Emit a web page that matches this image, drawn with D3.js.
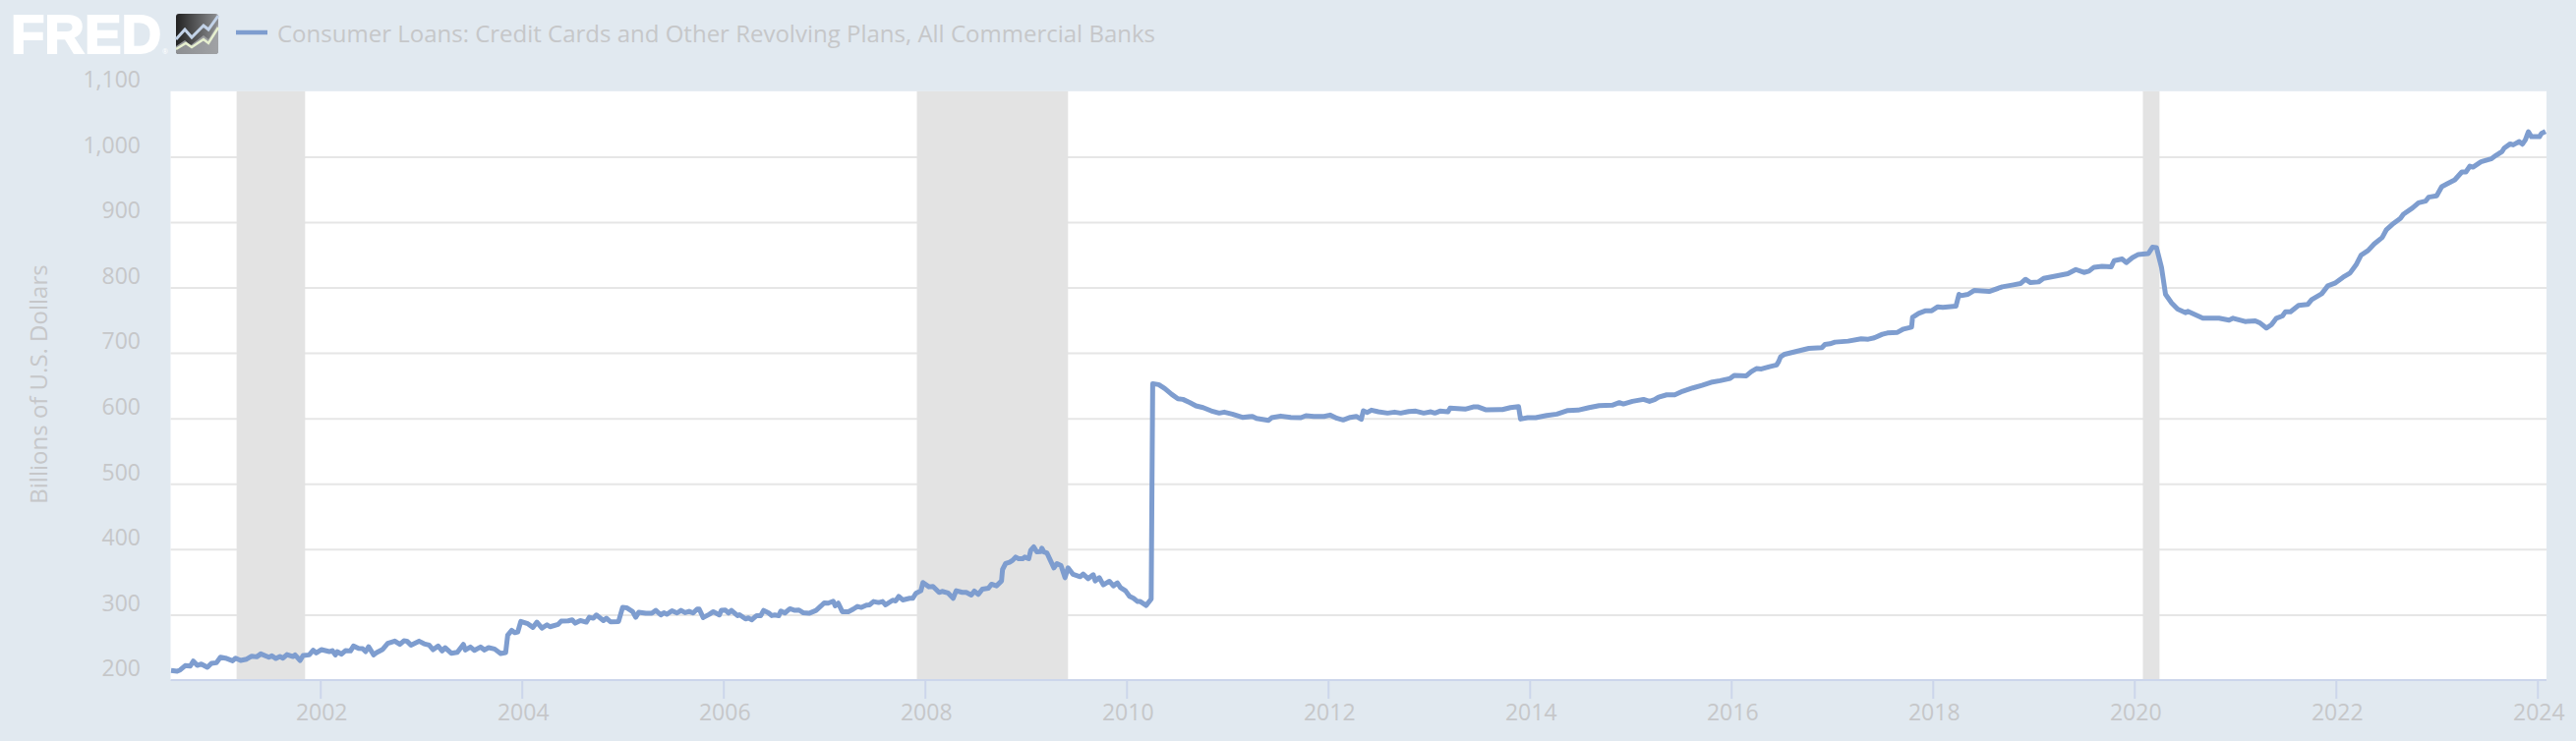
<!DOCTYPE html>
<html><head><meta charset="utf-8">
<script src="https://cdn.jsdelivr.net/npm/d3@7"></script>
<style>html,body{margin:0;padding:0;background:#e1e9f0;overflow:hidden}svg{display:block}text{font-family:"Open Sans",sans-serif}</style>
</head><body><svg id="c" width="2620" height="754"></svg>
<script>
const seriesName = "Consumer Loans: Credit Cards and Other Revolving Plans, All Commercial Banks";
const yAxisTitle = "Billions of U.S. Dollars";
const yTicks = [200,300,400,500,600,700,800,900,1000,1100];
const xTicks = [2002,2004,2006,2008,2010,2012,2014,2016,2018,2020,2022,2024];
const xDomain = [2000.515,2024.09];
const recessions = [[2001.17,2001.85],[2007.92,2009.42],[2020.085,2020.25]];
const years = [
2000.52,2000.58,2000.61,2000.66,2000.71,2000.74,2000.78,2000.82,2000.88,2000.92,2000.97,2001.01,2001.06,2001.13,2001.16,2001.21,2001.27,2001.32,2001.37,2001.41,2001.49,2001.52,2001.56,2001.60,2001.63,2001.67,2001.73,2001.75,2001.80,2001.83,2001.89,2001.93,2001.96,
2002.01,2002.09,2002.12,2002.15,2002.17,2002.21,2002.25,2002.30,2002.33,2002.38,2002.42,2002.45,2002.48,2002.53,2002.56,2002.62,2002.67,2002.74,2002.79,2002.83,2002.86,2002.90,2002.98,
2003.03,2003.08,2003.12,2003.17,2003.21,2003.24,2003.30,2003.36,2003.42,2003.44,2003.49,2003.53,2003.59,2003.63,2003.67,2003.73,2003.79,2003.84,2003.86,2003.90,2003.93,2003.96,2003.99,
2004.06,2004.11,2004.15,2004.20,2004.25,2004.28,2004.36,2004.39,2004.46,2004.50,2004.53,2004.58,2004.64,2004.67,2004.71,2004.74,2004.81,2004.84,2004.88,2004.96,
2005.00,2005.04,2005.10,2005.13,2005.16,2005.23,2005.29,2005.33,2005.38,2005.41,2005.44,2005.49,2005.54,2005.58,2005.62,2005.66,2005.70,2005.74,2005.76,2005.80,2005.86,2005.90,2005.96,2005.98,
2006.02,2006.05,2006.08,2006.14,2006.16,2006.22,2006.25,2006.28,2006.33,2006.37,2006.40,2006.45,2006.48,2006.51,2006.55,2006.57,2006.61,2006.66,2006.71,2006.75,2006.79,2006.85,2006.92,2006.97,
2007.00,2007.04,2007.09,2007.11,2007.14,2007.18,2007.24,2007.29,2007.33,2007.37,2007.42,2007.45,2007.49,2007.54,2007.58,2007.61,2007.68,2007.71,2007.74,2007.78,2007.85,2007.88,2007.91,2007.96,2007.98,
2008.04,2008.08,2008.14,2008.17,2008.23,2008.28,2008.31,2008.37,2008.41,2008.46,2008.49,2008.53,2008.57,2008.63,2008.66,2008.71,2008.76,2008.77,2008.80,2008.84,2008.87,2008.90,2008.93,2008.97,2008.99,
2009.03,2009.05,2009.08,2009.11,2009.15,2009.16,2009.18,2009.21,2009.24,2009.28,2009.31,2009.35,2009.39,2009.42,2009.47,2009.54,2009.57,2009.62,2009.67,2009.69,2009.73,2009.77,2009.83,2009.87,2009.91,2009.94,2009.99,
2010.03,2010.07,2010.11,2010.137,2010.196,2010.245,2010.26,2010.32,2010.38,2010.45,2010.51,2010.56,2010.63,2010.69,2010.76,2010.84,2010.92,2010.97,
2011.05,2011.15,2011.25,2011.29,2011.41,2011.44,2011.53,2011.63,2011.73,2011.78,2011.86,2011.96,
2012.02,2012.09,2012.15,2012.22,2012.28,2012.33,2012.35,2012.39,2012.43,2012.50,2012.59,2012.66,2012.72,2012.80,2012.87,2012.95,
2013.02,2013.06,2013.11,2013.19,2013.21,2013.36,2013.44,2013.49,2013.57,2013.73,2013.81,2013.89,2013.91,2013.98,
2014.06,2014.17,2014.27,2014.38,2014.48,2014.59,2014.69,2014.82,2014.89,2014.93,
2015.02,2015.13,2015.19,2015.24,2015.28,2015.36,2015.44,2015.52,2015.62,2015.71,2015.80,2015.89,2015.99,
2016.03,2016.15,2016.20,2016.25,2016.30,2016.38,2016.45,2016.47,2016.49,2016.53,2016.64,2016.77,2016.90,2016.93,2016.98,
2017.03,2017.16,2017.29,2017.36,2017.42,2017.50,2017.55,2017.65,2017.71,2017.79,2017.80,2017.86,2017.93,2017.99,
2018.05,2018.10,2018.23,2018.26,2018.28,2018.35,2018.41,2018.56,2018.69,2018.80,2018.87,2018.92,2018.97,
2019.05,2019.10,2019.19,2019.34,2019.42,2019.50,2019.55,2019.60,2019.68,2019.77,2019.80,2019.88,2019.92,2019.98,
2020.04,2020.14,2020.18,2020.22,2020.27,2020.31,2020.37,2020.43,2020.51,2020.53,2020.68,2020.84,2020.94,2020.98,
2021.10,2021.20,2021.25,2021.31,2021.36,2021.41,2021.47,2021.50,2021.55,2021.63,2021.72,2021.76,2021.86,2021.92,2021.99,
2022.07,2022.14,2022.20,2022.25,2022.32,2022.38,2022.46,2022.50,2022.56,2022.64,2022.67,2022.76,2022.82,2022.89,2022.92,
2023.00,2023.05,2023.10,2023.18,2023.25,2023.29,2023.33,2023.36,2023.44,2023.54,2023.59,2023.65,2023.67,2023.73,2023.76,2023.82,2023.85,2023.88,2023.91,2023.94,
2024.02,2024.04,2024.08];
const values = [
214.5,213.5,215.5,222,221.5,229,222.5,224.5,219.5,225.5,226.5,235,233.5,229.5,233.5,230,232,236.5,235.5,240,235,237,233,236,233.5,239,236,238.5,230,237.5,238.5,245.5,241.5,
246.5,243.5,245,238.5,243.5,239.5,245,244.5,252,248.5,248,243.5,251,238.5,242,247,256,259.5,254.5,260,259.5,253.5,259.5,
255.5,253.5,246.5,252,244.5,249.5,241,242.5,254.5,246,250.5,245.5,250.5,246,249.5,247.5,240.5,242,268.5,276,272.5,273.5,289.5,
286,280.5,288.5,279.5,284.5,281.5,285,290,290.5,292,287,291,288.5,296,294.5,299.5,291,294.5,289,289.5,
311,310.5,304.5,296,303.5,302,302,306.5,299.5,303,300.5,306,302.5,306.5,303,305,302.5,308.5,308.5,295.5,300.5,304.5,299.5,306.5,
307,302.5,306.5,298.5,300,293.5,295,292,298.5,298.5,306.5,302.5,298.5,299.5,298.5,305.5,302.5,309,306.5,307,303,302,306.5,313.5,
318,317.5,320.5,313.5,317.5,304.5,304.5,308.5,312.5,311,314.5,315,320,318.5,320,315,322,321,328,322.5,325,325,332.5,336.5,349,
342.5,343,334,335.5,333,325,336.5,334,334,330,336,331,339,340.5,346.5,344,351.5,369,378,380,383,388,385.5,385.5,388,
385.5,398.5,403.5,396,396.5,401.5,396,394.5,384.5,371.5,378,375,356.5,371.5,361.5,358,362,355,361,351.5,356.5,345.5,351,344,348.5,341.5,336.5,
328,325,320,320,314,324,653,651.5,645.5,636.5,630,629,624,619,616.5,611.5,608,609.5,
606.5,601.5,603,600,597,601,603.5,601.5,601,604,603,603,
605,600,597.5,601.5,603,598.5,611.5,609,612.5,610,608,609.5,608,610.5,611,608,
610,608,611,610,615.5,614,617.5,617.5,613,613.5,616.5,618,599,601,
601,604.5,606.5,612,612.5,616.5,619.5,620,624,622,
626,629,626,628.5,632.5,636,636,641.5,646.5,650.5,655,657.5,661,
665.5,665,671.5,676,675.5,679,681.5,686.5,694,698,702,707,708,713,714,
716.5,718,721.5,721,723,728.5,730.5,731.5,736.5,739.5,754.5,760.5,764.5,764.5,
770.5,769.5,771.5,789.5,787.5,789.5,795.5,794,801,804,806,812.5,807.5,
808.5,814,816.5,821,827.5,823,825,831,832.5,831.5,841,843.5,838,845.5,
850.5,852,861.5,861,830.5,789.5,776.5,767,761.5,763.5,753,753,750,753,
748,749,745.5,738,743,753,756.5,763,763,772.5,774,781.5,790.5,802.5,806.5,
815.5,822,834.5,849.5,856.5,866.5,876.5,888,896.5,905.5,912,921.5,929.5,932,938,
940,954,958,964.5,976.5,976.5,985.5,984,992,996.5,1002,1008,1013,1019.5,1018,1023,1019,1025.5,1038,1030.5,
1030.5,1035.5,1038.5];

const P = {l:173.5,r:2590,t:92.8,b:692};
const x = d3.scaleLinear().domain(xDomain).range([P.l,P.r]);
const y = d3.scaleLinear().domain([200,1100]).range([P.b,P.t]);
const TXT = "#c6c7c9";
const svg = d3.select("#c");
const defs = svg.append("defs");
const g = defs.append("linearGradient").attr("id","lg").attr("x1",0).attr("x2",1).attr("y1",0).attr("y2",0);
g.append("stop").attr("offset",0).attr("stop-color","#222");
g.append("stop").attr("offset",1).attr("stop-color","#8f9194");
const g2 = defs.append("linearGradient").attr("id","lg2").attr("x1",0).attr("x2",1).attr("y1",0).attr("y2",0);
g2.append("stop").attr("offset",0).attr("stop-color","#8d8f92");
g2.append("stop").attr("offset",1).attr("stop-color","#a0a2a5");

svg.append("rect").attr("width",2620).attr("height",754).attr("fill","#e1e9f0");
svg.append("rect").attr("x",P.l).attr("y",P.t).attr("width",P.r-P.l).attr("height",P.b-P.t).attr("fill","#fff");

// grid
svg.append("g").attr("transform",`translate(${P.l},0)`)
  .call(d3.axisLeft(y).tickValues(yTicks.slice(1,-1)).tickSize(-(P.r-P.l)).tickFormat(""))
  .call(s=>s.select(".domain").remove())
  .call(s=>s.selectAll("line").attr("stroke","#e6e6e6").attr("stroke-width",2));

// recessions
svg.append("g").selectAll("rect").data(recessions).join("rect")
  .attr("x",d=>x(d[0])).attr("width",d=>x(d[1])-x(d[0]))
  .attr("y",P.t).attr("height",P.b-P.t).attr("fill","#e3e3e3");

// y labels
svg.append("g").selectAll("text").data(yTicks).join("text")
  .attr("x",143).attr("y",d=>y(d)-3.7).attr("text-anchor","end")
  .attr("font-size",23).attr("fill",TXT).text(d=>d3.format(",")(d));

// x axis
const xa = svg.append("g").attr("transform",`translate(0,${P.b})`)
  .call(d3.axisBottom(x).tickValues(xTicks).tickSize(19).tickPadding(6).tickFormat(d3.format("d")));
xa.select(".domain").attr("stroke","#ccd6eb").attr("stroke-width",2).attr("d",`M${P.l},0H${P.r}`);
xa.selectAll("line").attr("stroke","#ccd6eb").attr("stroke-width",2);
xa.selectAll("text").attr("font-size",23).attr("fill",TXT).style("font-family",'"Open Sans",sans-serif').attr("dx",1);

// line
const line = d3.line().x(d=>x(d[0])).y(d=>y(d[1]));
svg.append("path").datum(d3.zip(years,values)).attr("d",line)
  .attr("fill","none").attr("stroke","#7e9dcf").attr("stroke-width",5).attr("stroke-linejoin","round");

// y title
svg.append("text").attr("transform","translate(48,391) rotate(-90)").attr("text-anchor","middle")
  .attr("font-size",24).attr("fill",TXT).text(yAxisTitle);

// legend
svg.append("line").attr("x1",240).attr("x2",272).attr("y1",33).attr("y2",33).attr("stroke","#7e9dcf").attr("stroke-width",4.5);
svg.append("text").attr("x",282).attr("y",43).attr("font-size",24).attr("fill",TXT).text(seriesName);

// FRED logo
svg.append("text").attr("x",11).attr("y",54).attr("font-size",56).attr("font-weight",700).attr("fill","#fff").attr("stroke","#fff").attr("stroke-width",2)
  .style("font-family",'"Liberation Sans",sans-serif')
  .attr("textLength",153).attr("lengthAdjust","spacingAndGlyphs").text("FRED");
svg.append("text").attr("x",165).attr("y",55).attr("font-size",7).attr("fill","#fff").text("®");
svg.append("rect").attr("x",179).attr("y",14).attr("width",43).attr("height",41).attr("rx",3).attr("fill","url(#lg)");
svg.append("path").attr("d","M179,53 L179,47 L188,41 L194,46 L207,36 L212,40 L222,24 L222,52 Q222,55 219,55 L182,55 Q179,55 179,53Z").attr("fill","url(#lg2)");
svg.append("path").attr("d","M179,40 L188,30 L195,38 L207,26 L212,30 L222,16").attr("fill","none").attr("stroke","#c3d3e8").attr("stroke-width",3);
svg.append("path").attr("d","M179,50 L189,44 L195,48 L207,40 L212,44 L222,28").attr("fill","none").attr("stroke","#e6efcf").attr("stroke-width",2.5);
</script></body></html>
